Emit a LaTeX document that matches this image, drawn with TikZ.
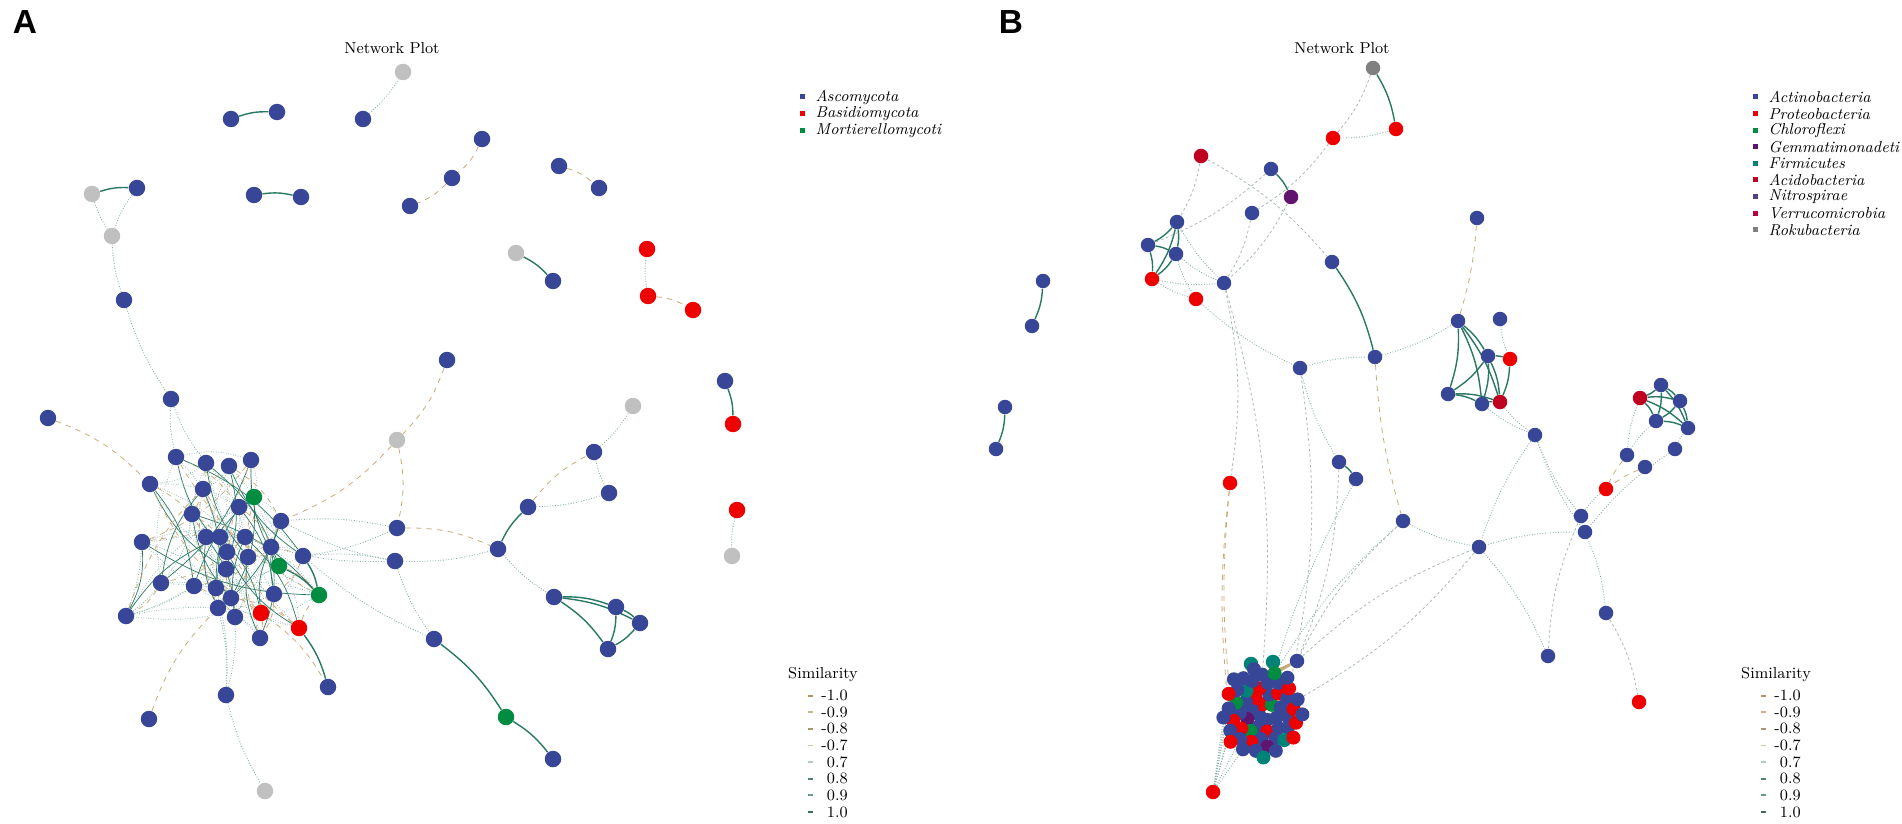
\documentclass[tikz,border=0pt]{standalone}
\usepackage{fontspec}
\newfontfamily\panelfont{Liberation Sans}
\usetikzlibrary{positioning,backgrounds}

\definecolor{nblue}{RGB}{55,70,150}
\definecolor{nred}{RGB}{238,0,0}
\definecolor{ngreen}{RGB}{0,140,65}
\definecolor{ngray}{RGB}{192,192,192}
\definecolor{nacido}{RGB}{192,0,32}
\definecolor{npurple}{RGB}{95,20,110}
\definecolor{nteal}{RGB}{0,130,120}
\definecolor{nnitro}{RGB}{85,65,130}
\definecolor{nverru}{RGB}{185,0,60}
\definecolor{nroku}{RGB}{128,128,128}
\definecolor{edgegreen}{RGB}{40,120,100}
\definecolor{edgeteal}{RGB}{135,178,172}
\definecolor{edgetan}{RGB}{200,170,120}
\definecolor{edgegray}{RGB}{170,182,182}
\definecolor{sneg1}{RGB}{180,150,100}
\definecolor{sneg2}{RGB}{205,180,135}
\definecolor{sneg3}{RGB}{170,150,110}
\definecolor{sneg4}{RGB}{215,200,170}
\definecolor{spos1}{RGB}{175,205,200}
\definecolor{spos2}{RGB}{80,130,120}
\definecolor{spos3}{RGB}{110,150,140}
\definecolor{spos4}{RGB}{60,110,100}

\tikzset{
  taxon/.style={circle, fill=#1, inner sep=0pt, minimum size=0.33cm},
  smalltaxon/.style={circle, fill=#1, inner sep=0pt, minimum size=0.29cm},
  packtaxon/.style={circle, fill=#1, inner sep=0pt, minimum size=0.28cm},
  stronglink/.style={draw=edgegreen, line width=0.8pt},
  poslink/.style={draw=edgeteal, densely dotted, line width=0.5pt},
  neglink/.style={draw=edgetan, dashed, line width=0.45pt},
  faintlink/.style={draw=edgegray, dash pattern=on 1.5pt off 1.5pt, line width=0.45pt},
  keybox/.style={rectangle, fill=#1, inner sep=0pt, minimum size=0.1cm},
  keydash/.style={rectangle, fill=#1, inner sep=0pt, minimum width=0.1cm, minimum height=0.035cm},
  keytext/.style={font=\small\itshape, inner sep=0pt},
  plottitle/.style={font=\small},
  panellabel/.style={font=\panelfont\bfseries\fontsize{19}{19}\selectfont}
}

\begin{document}
\begin{tikzpicture}[x=0.02cm, y=-0.02cm]
\useasboundingbox (0,0) rectangle (1902,824);

\node[panellabel] (labelA) at (25,22) {A};
\node[panellabel] (labelB) at (1011,22) {B};
\node[plottitle] (titleA) at (392,48) {Network Plot};
\node[plottitle] (titleB) at (1342,48) {Network Plot};

% fungal network
\foreach \n/\x/\y/\c in {a1/231/119/nblue, a2/277/112/nblue, a3/363/119/nblue, a4/403/72/ngray,
  a5/482/139/nblue, a6/452/178/nblue, a7/410/206/nblue, a8/559/166/nblue, a9/599/188/nblue,
  a10/92/194/ngray, a11/137/188/nblue, a12/112/236/ngray, a13/254/195/nblue, a14/301/197/nblue,
  a15/516/253/ngray, a16/553/281/nblue, a17/647/249/nred, a18/648/296/nred, a19/693/310/nred,
  a20/725/381/nblue, a21/733/424/nred, a22/737/510/nred, a23/732/556/ngray, a24/124/300/nblue,
  a25/447/360/nblue, a26/171/399/nblue, a27/48/418/nblue, a28/397/440/ngray, a29/633/406/ngray,
  a30/594/452/nblue, a31/609/493/nblue, a32/528/507/nblue, a33/498/549/nblue, a34/397/528/nblue,
  a35/395/561/nblue, a36/554/597/nblue, a37/616/607/nblue, a38/640/623/nblue, a39/608/649/nblue,
  a40/434/639/nblue, a41/506/717/ngreen, a42/553/759/nblue, a43/328/687/nblue, a44/226/695/nblue,
  a45/149/719/nblue, a46/265/791/ngray}
  \node[taxon=\c] (\n) at (\x,\y) {};

\foreach \n/\x/\y/\c in {c1/176/457/nblue, c2/206/463/nblue, c3/229/466/nblue, c4/251/460/nblue,
  c5/150/484/nblue, c6/203/489/nblue, c7/254/497/ngreen, c8/239/507/nblue, c9/192/514/nblue,
  c10/281/521/nblue, c11/142/542/nblue, c12/206/537/nblue, c13/220/537/nblue, c14/245/537/nblue,
  c15/271/547/nblue, c16/227/552/nblue, c17/248/557/nblue, c18/303/556/nblue, c19/279/566/ngreen,
  c20/226/569/nblue, c21/161/583/nblue, c22/194/586/nblue, c23/216/588/nblue, c24/231/598/nblue,
  c25/274/594/nblue, c26/319/595/ngreen, c27/218/608/nblue, c28/126/616/nblue, c29/235/617/nblue,
  c30/261/613/nred, c31/299/628/nred, c32/260/638/nblue}
  \node[taxon=\c] (\n) at (\x,\y) {};

% bacterial network
\foreach \n/\x/\y/\c in {b1/1043/281/nblue, b2/1032/326/nblue, b3/1005/407/nblue, b4/996/449/nblue,
  b5/1201/156/nacido, b6/1271/169/nblue, b7/1291/197/npurple, b8/1252/213/nblue, b9/1177/222/nblue,
  b10/1148/245/nblue, b11/1176/254/nblue, b12/1152/279/nred, b13/1224/283/nblue, b14/1196/299/nred,
  b15/1373/68/nroku, b16/1396/129/nred, b17/1333/138/nred, b18/1477/218/nblue, b19/1332/262/nblue,
  b20/1375/357/nblue, b21/1300/368/nblue, b22/1458/321/nblue, b23/1500/319/nblue, b24/1488/356/nblue,
  b25/1510/359/nred, b26/1448/394/nblue, b27/1482/404/nblue, b28/1500/402/nacido, b29/1535/435/nblue,
  b30/1661/385/nblue, b31/1640/398/nacido, b32/1680/401/nblue, b33/1656/421/nblue, b34/1688/428/nblue,
  b35/1675/449/nblue, b36/1627/455/nblue, b37/1645/467/nblue, b38/1606/489/nred, b39/1581/516/nblue,
  b40/1585/532/nblue, b41/1479/547/nblue, b42/1606/613/nblue, b43/1548/656/nblue, b44/1639/702/nred,
  b45/1230/483/nred, b46/1339/462/nblue, b47/1356/479/nblue, b48/1403/521/nblue, b49/1297/661/nblue,
  b50/1251/664/nteal, b51/1273/662/nteal, b52/1213/792/nred}
  \node[smalltaxon=\c] (\n) at (\x,\y) {};

% packed module at the bottom
\foreach \c [count=\i] in {nblue,nred,nblue,nblue,ngreen,nblue,nred,nblue,npurple,nblue,nred,nblue,
  nblue,ngreen,nred,nblue,nblue,nred,nblue,nteal,nblue,nred,nblue,nblue,ngreen,nblue,nred,nblue,
  nblue,nred,nblue,npurple,nblue,nred,nblue,nblue,nteal,nblue,nred,nblue,nblue,nred,nblue,ngreen,
  nblue,nred,nblue,nblue,nblue,nred,nblue,nblue,nteal,nblue,nblue,nred}{
  \pgfmathsetmacro\rr{sqrt((\i-0.5)/56)}
  \pgfmathsetmacro\th{\i*137.508}
  \node[packtaxon=\c] (k\i) at ({1262+41*\rr*cos(\th)}, {712+47*\rr*sin(\th)}) {};
}

\begin{scope}[on background layer]
  % fungal links
  \foreach \u/\v in {a1/a2, a13/a14, a10/a11, a36/a37, a36/a38, a36/a39, a37/a38, a37/a39, a38/a39,
    a33/a32, a40/a41, a41/a42, c31/a43, a15/a16, a20/a21, c18/c26, c19/c26}
    \draw[stronglink] (\u) to[bend left=10] (\v);
  \foreach \u/\v in {a3/a4, a17/a18, a22/a23, a10/a12, a11/a12, a12/a24, a24/a26, a26/c1, a26/c2,
    a30/a31, a35/a33, a34/c10, a35/c18, a35/a40, c18/a40, a33/a36, a44/c27, a44/c29, a44/c23,
    a44/a46, c28/c21, c28/c11, c28/c22, a32/a31, a30/a29, c15/a35, c10/a35, c18/a34}
    \draw[poslink] (\u) to[bend right=8] (\v);
  \foreach \u/\v in {a8/a9, a18/a19, a5/a6, a6/a7, a25/a28, a28/a34, a28/c10, a27/c5, a45/c27,
    a32/a30, a34/a33, c30/a43, c31/c26, c30/c32}
    \draw[neglink] (\u) to[bend left=12] (\v);
  \foreach \i in {1,...,32}
    \foreach \k/\sty in {3/poslink, 7/neglink, 12/poslink, 17/stronglink}{
      \pgfmathtruncatemacro\j{mod(\i+\k-1,32)+1}
      \draw[\sty, line width=0.4pt] (c\i) to[bend left=15] (c\j);
    }

  % bacterial links
  \foreach \u/\v in {b1/b2, b3/b4, b15/b16, b6/b7, b9/b10, b9/b11, b9/b12, b10/b11, b10/b12, b11/b12,
    b19/b20, b46/b47, b22/b24, b22/b26, b22/b27, b24/b26, b24/b27, b24/b28, b26/b27, b26/b28,
    b27/b28, b24/b25, b25/b28, b22/b28, b30/b31, b30/b32, b30/b33, b31/b32, b31/b33, b31/b34,
    b32/b33, b32/b34, b33/b34, b30/b34}
    \draw[stronglink] (\u) to[bend left=10] (\v);
  \foreach \u/\v in {b17/b16, b12/b13, b12/b14, b11/b14, b11/b13, b9/b13, b14/b21, b20/b21, b20/b22,
    b21/b46, b48/b41, b28/b29, b27/b29, b29/b41, b29/b39, b38/b39, b39/b40, b40/b41, b31/b36,
    b33/b36, b34/b35, b35/b40, b42/b40, b43/b41, b23/b25, b29/b40, b47/k40, b48/k44}
    \draw[poslink] (\u) to[bend right=8] (\v);
  \foreach \u/\v in {b15/b17, b5/b9, b5/b19, b17/b8, b8/b13, b7/b13, b13/b45, b6/b10, b49/b41,
    b49/b48, b46/b49, b41/k47, b42/b44, b43/b39, b21/k39, b13/k36}
    \draw[faintlink] (\u) to[bend left=10] (\v);
  \foreach \u/\v in {b45/k30, b45/k38, b20/b48, b22/b18, b36/b38, b37/b38}
    \draw[neglink] (\u) to[bend right=6] (\v);
  \foreach \k in {30,35,38,41,43,46,48,51,54}
    \draw[poslink] (b52) -- (k\k);
  \foreach \k in {20,28,33}
    \draw[draw=edgetan, line width=1pt] (b49) -- (k\k);
\end{scope}

% phylum keys
\foreach \t/\c [count=\i] in {Ascomycota/nblue, Basidiomycota/nred, Mortierellomycoti/ngreen}{
  \node[keybox=\c] (keyA\i) at (802,{97+16.6*(\i-1)}) {};
  \node[keytext, right=0.21cm of keyA\i] (keytextA\i) {\t};
}
\foreach \t/\c [count=\i] in {Actinobacteria/nblue, Proteobacteria/nred, Chloroflexi/ngreen,
  Gemmatimonadeti/npurple, Firmicutes/nteal, Acidobacteria/nacido, Nitrospirae/nnitro,
  Verrucomicrobia/nverru, Rokubacteria/nroku}{
  \node[keybox=\c] (keyB\i) at (1755,{97+16.6*(\i-1)}) {};
  \node[keytext, right=0.21cm of keyB\i] (keytextB\i) {\t};
}

% similarity keys
\node[plottitle] (simA) at (823,675) {Similarity};
\node[plottitle] (simB) at (1776,675) {Similarity};
\foreach \v/\c [count=\i] in {-1.0/sneg1, -0.9/sneg2, -0.8/sneg3, -0.7/sneg4,
  0.7/spos1, 0.8/spos2, 0.9/spos3, 1.0/spos4}{
  \node[plottitle, anchor=east, inner sep=0pt] (valA\i) at (848,{695.7+16.6*(\i-1)}) {\v};
  \node[keydash=\c] (dashA\i) at (810,{695.7+16.6*(\i-1)}) {};
  \node[plottitle, anchor=east, inner sep=0pt] (valB\i) at (1801,{695.7+16.6*(\i-1)}) {\v};
  \node[keydash=\c] (dashB\i) at (1763,{695.7+16.6*(\i-1)}) {};
}
\end{tikzpicture}
\end{document}
